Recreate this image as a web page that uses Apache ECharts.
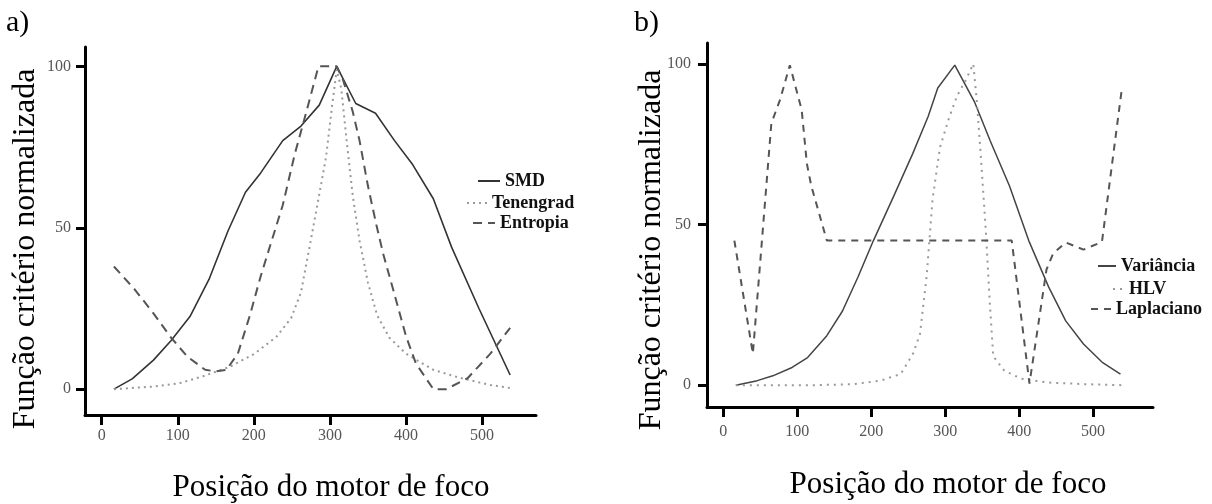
<!DOCTYPE html>
<html>
<head>
<meta charset="utf-8">
<script src="https://cdn.jsdelivr.net/npm/echarts@6/dist/echarts.min.js"></script>
<style>
html,body{margin:0;padding:0;background:#fff;}
#c{width:1212px;height:504px;}
</style>
</head>
<body>
<div id="c"></div>
<script>
// ---- data (panel a) ----
const xTicks = [0, 100, 200, 300, 400, 500];
const yTicks = [0, 50, 100];
const smd = [[16,0],[40,3.2],[68,9],[91,15],[116,22.5],[141,34],[166,49],[189,61],[209,67],[238,77],[262,81.5],[286,88],[309,100],[334,88.5],[360,85.5],[385,77],[409,69.5],[436,59],[460,44],[496,25],[537,4.4]];
const tenengrad = [[16,0],[68,0.8],[103,1.9],[133,4],[169,7],[201,11],[230,16.3],[249,22],[262,30],[274,45],[285,59],[295,72],[303,88],[309,99],[315,93],[322,77],[330,60],[339,46],[350,33],[362,23],[378,16],[400,11],[436,6],[471,3.5],[511,1.3],[539,0.3]];
const entropia = [[16,38],[43,31],[68,23.5],[91,16],[113,10],[136,6],[150,5.5],[164,6],[179,11],[195,23],[209,35],[238,57],[254,73],[268,85],[285,100],[309,100],[317,96],[330,86],[339,77],[350,63],[361,51],[370,42],[383,31],[400,16.5],[413,8],[436,0],[453,0],[481,3.4],[511,11],[537,19]];
// ---- data (panel b) ----
const variancia = [[17,0],[46,1.4],[67,2.9],[93,5.5],[114,8.6],[140,15.4],[161,23],[182,33.6],[203,45],[230,58.6],[256,72],[277,83.6],[290,92.5],[313,99.6],[340,88],[361,76],[387,62],[413,45],[440,30.5],[463,20],[487,12.8],[513,7],[537,3.4]];
const hlv = [[17,0],[72,0],[124,0],[177,0.3],[214,1.5],[240,3.5],[257,10],[266,16],[275,34],[283,58],[293,74],[305,83],[316,90],[328,95],[338,100],[343,88],[348,72],[355,48],[360,27],[365,9],[380,4.5],[403,2],[440,0.8],[490,0.3],[539,0]];
const laplaciano = [[15,45],[40,9.8],[65,81.5],[77,89],[90,99.6],[106,85.7],[113,69],[119,62],[140,45],[390,45],[414,0.5],[437,36],[446,41],[463,44.4],[487,42.2],[512,44.6],[539,92.5]];

const serif = 'Liberation Serif';
const chart = echarts.init(document.getElementById('c'), null, {renderer:'canvas'});

function xAxisCfg(gi, min, max, margin){
  return {type:'value', gridIndex:gi, min:min, max:max,
    axisLine:{onZero:false, lineStyle:{color:'#000', width:3}},
    axisTick:{show:true, customValues:xTicks, length:10, lineStyle:{color:'#000', width:3}},
    axisLabel:{customValues:xTicks, margin:margin, fontFamily:serif, fontSize:16, color:'#555'},
    splitLine:{show:false}};
}
function yAxisCfg(gi, min, max, margin){
  return {type:'value', gridIndex:gi, min:min, max:max,
    axisLine:{onZero:false, lineStyle:{color:'#000', width:3}},
    axisTick:{show:true, customValues:yTicks, length:9, lineStyle:{color:'#000', width:3}},
    axisLabel:{customValues:yTicks, margin:margin, fontFamily:serif, fontSize:16, color:'#555'},
    splitLine:{show:false}};
}
function legendCfg(name, left, top, w){
  return {data:[name], left:left, top:top, itemWidth:w, itemHeight:10, selectedMode:false,
    padding:0, itemStyle:{opacity:0},
    textStyle:{fontFamily:serif, fontWeight:'bold', fontSize:18, color:'#111'}};
}
function lineSeries(name, data, xi, color, width, type){
  return {name:name, type:'line', xAxisIndex:xi, yAxisIndex:xi, data:data, symbol:'none',
    smooth:false, animation:false, lineStyle:{color:color, width:width, type:type}, itemStyle:{color:color}};
}

const option = {
  backgroundColor:'#fff',
  animation:false,
  grid:[
    {left:85, top:47, width:451, height:368},
    {left:707, top:43, width:446, height:364}
  ],
  xAxis:[xAxisCfg(0,-22,571,13), xAxisCfg(1,-22,581,17)],
  yAxis:[yAxisCfg(0,-8,106,14), yAxisCfg(1,-6.8,106.5,16)],
  legend:[
    legendCfg('SMD', 477, 172, 22),
    legendCfg('Tenengrad', 466, 194, 20),
    legendCfg('Entropia', 472, 214, 22),
    legendCfg('Variância', 1097, 257, 18),
    legendCfg('HLV', 1112, 280, 11),
    legendCfg('Laplaciano', 1090, 300, 20)
  ],
  series:[
    lineSeries('SMD', smd, 0, '#333', 1.6, 'solid'),
    lineSeries('Tenengrad', tenengrad, 0, '#999', 2, [2,4]),
    lineSeries('Entropia', entropia, 0, '#555', 2, [9,6]),
    lineSeries('Variância', variancia, 1, '#444', 1.5, 'solid'),
    lineSeries('HLV', hlv, 1, '#999', 2, [2,5]),
    lineSeries('Laplaciano', laplaciano, 1, '#555', 2, [7,6])
  ],
  graphic:[
    {type:'text', left:6, top:8, style:{text:'a)', font:'30px "Liberation Serif"', fill:'#000'}},
    {type:'text', left:634, top:8, style:{text:'b)', font:'30px "Liberation Serif"', fill:'#000'}},
    {type:'text', x:26, y:249, rotation:Math.PI/2, style:{text:'Função critério normalizada', font:'32px "Liberation Serif"', fill:'#000', align:'center', verticalAlign:'middle'}},
    {type:'text', x:652, y:250, rotation:Math.PI/2, style:{text:'Função critério normalizada', font:'32px "Liberation Serif"', fill:'#000', align:'center', verticalAlign:'middle'}},
    {type:'text', x:331, y:488, style:{text:'Posição do motor de foco', font:'31px "Liberation Serif"', fill:'#000', align:'center', verticalAlign:'middle'}},
    {type:'text', x:948, y:485, style:{text:'Posição do motor de foco', font:'31px "Liberation Serif"', fill:'#000', align:'center', verticalAlign:'middle'}}
  ]
};
chart.setOption(option);
</script>
</body>
</html>
